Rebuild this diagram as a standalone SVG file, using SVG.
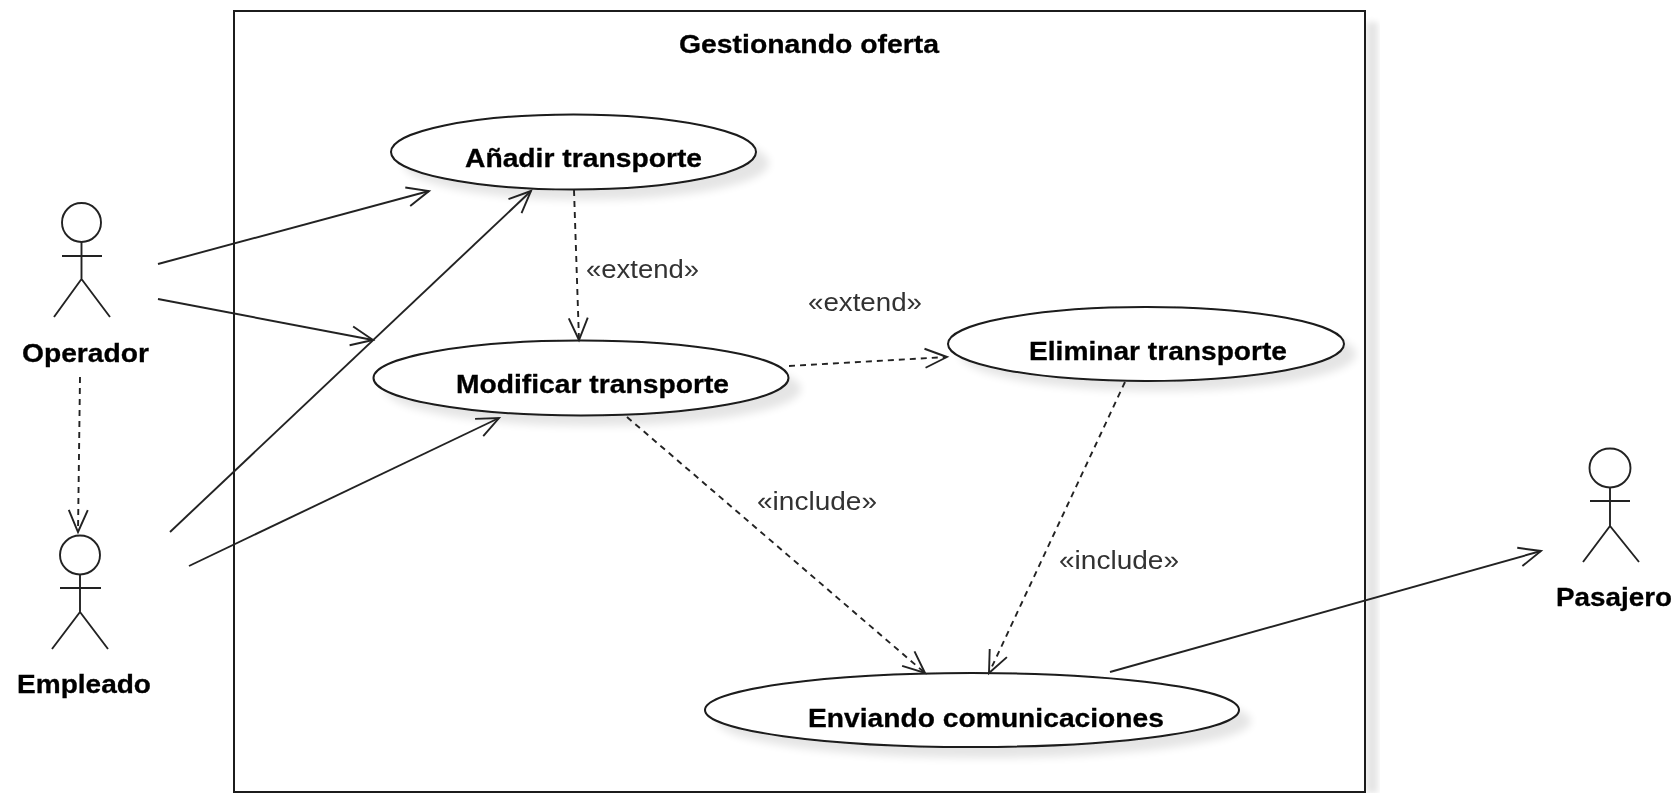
<svg xmlns="http://www.w3.org/2000/svg" width="1672" height="793" viewBox="0 0 1672 793">
<style>
.n{fill:#fff;stroke:#1a1a1a;stroke-width:2;filter:url(#soft)}
.s{fill:#000;opacity:.1;stroke:none}
.a{fill:none;stroke:#222;stroke-width:1.9;filter:url(#soft)}
.c{fill:none;stroke:#222;stroke-width:1.9;filter:url(#soft)}
.d{stroke-dasharray:6 5}
text{font-family:"Liberation Sans",Arial,sans-serif;fill:#333;font-size:26px;filter:url(#tb)}
.b{font-weight:bold;font-size:25.5px;text-anchor:start;fill:#000;stroke:#000;stroke-width:.3}
</style>
<defs>
<filter id="sb" x="-10%" y="-30%" width="120%" height="160%"><feGaussianBlur stdDeviation="4"/></filter>
<filter id="fs" x="-10%" y="-2%" width="120%" height="104%"><feGaussianBlur stdDeviation="3"/></filter>
<filter id="soft" filterUnits="userSpaceOnUse" x="0" y="0" width="1672" height="793"><feGaussianBlur stdDeviation="0.55"/></filter>
<filter id="tb" filterUnits="userSpaceOnUse" x="0" y="0" width="1672" height="793"><feGaussianBlur stdDeviation="0.55"/></filter>
<marker id="o" markerUnits="userSpaceOnUse" markerWidth="34" markerHeight="30" refX="29" refY="15" orient="auto"><path d="M7 5.5 L29 15 L7 24.5" fill="none" stroke="#222" stroke-width="1.9"/></marker>
</defs>
<rect width="1672" height="793" fill="#fff"/>
<g id="frame">
<rect x="1366" y="22" width="12" height="771" fill="#000" opacity=".1" filter="url(#fs)"/>
<rect class="n" x="234" y="11" width="1131" height="781"/>
<text class="b" x="679" y="53" textLength="260" lengthAdjust="spacingAndGlyphs">Gestionando oferta</text>
</g>
<g id="actor-operador">
<ellipse class="a" cx="81.5" cy="222.5" rx="19.5" ry="19.5"/>
<path class="a" d="M81.5 242V279M62 256H102M54 317L81.5 279L110 317"/>
<text class="b" x="22" y="362" textLength="127" lengthAdjust="spacingAndGlyphs">Operador</text>
</g>
<g id="actor-empleado">
<ellipse class="a" cx="80" cy="555" rx="20" ry="19.5"/>
<path class="a" d="M80 575V612M60 588H101M52 649L80 612L108 649"/>
<text class="b" x="17" y="693" textLength="134" lengthAdjust="spacingAndGlyphs">Empleado</text>
</g>
<g id="actor-pasajero">
<ellipse class="a" cx="1610" cy="468" rx="20.5" ry="19.5"/>
<path class="a" d="M1610 487V526M1590 501H1630M1583 562L1610 526L1639 562"/>
<text class="b" x="1556" y="606" textLength="116" lengthAdjust="spacingAndGlyphs">Pasajero</text>
</g>
<g id="uc-anadir">
<ellipse class="s" cx="586" cy="163" rx="183" ry="37" filter="url(#sb)"/>
<ellipse class="n" cx="573.5" cy="152" rx="182.5" ry="37.5"/>
<text class="b" x="465" y="167" textLength="237" lengthAdjust="spacingAndGlyphs">Añadir transporte</text>
</g>
<g id="uc-modificar">
<ellipse class="s" cx="593" cy="389" rx="208" ry="37" filter="url(#sb)"/>
<ellipse class="n" cx="581" cy="378" rx="207.5" ry="37.5"/>
<text class="b" x="456" y="393" textLength="273" lengthAdjust="spacingAndGlyphs">Modificar transporte</text>
</g>
<g id="uc-eliminar">
<ellipse class="s" cx="1158" cy="354" rx="198" ry="37" filter="url(#sb)"/>
<ellipse class="n" cx="1146" cy="344" rx="198" ry="37"/>
<text class="b" x="1029" y="360" textLength="258" lengthAdjust="spacingAndGlyphs">Eliminar transporte</text>
</g>
<g id="uc-enviando">
<ellipse class="s" cx="984" cy="721" rx="267" ry="37" filter="url(#sb)"/>
<ellipse class="n" cx="972" cy="710" rx="267" ry="37"/>
<text class="b" x="808" y="727" textLength="356" lengthAdjust="spacingAndGlyphs">Enviando comunicaciones</text>
</g>
<g id="connectors">
<path class="c" marker-end="url(#o)" d="M158 264L429 191"/>
<path class="c" marker-end="url(#o)" d="M158 299L373 340"/>
<path class="c" marker-end="url(#o)" d="M170 532L531 191"/>
<path class="c" marker-end="url(#o)" d="M189 566L499 418"/>
<path class="c d" marker-end="url(#o)" d="M80 377L78 532"/>
<path class="c d" marker-end="url(#o)" d="M574 190L579 340"/>
<path class="c d" marker-end="url(#o)" d="M789 366L947 357"/>
<path class="c d" marker-end="url(#o)" d="M627 417L925 673"/>
<path class="c d" marker-end="url(#o)" d="M1125 382L989 673"/>
<path class="c" marker-end="url(#o)" d="M1110 672L1541 551"/>
<text x="586" y="278" textLength="113" lengthAdjust="spacingAndGlyphs">«extend»</text>
<text x="808" y="311" textLength="114" lengthAdjust="spacingAndGlyphs">«extend»</text>
<text x="757" y="510" textLength="120" lengthAdjust="spacingAndGlyphs">«include»</text>
<text x="1059" y="569" textLength="120" lengthAdjust="spacingAndGlyphs">«include»</text>
</g>
</svg>
